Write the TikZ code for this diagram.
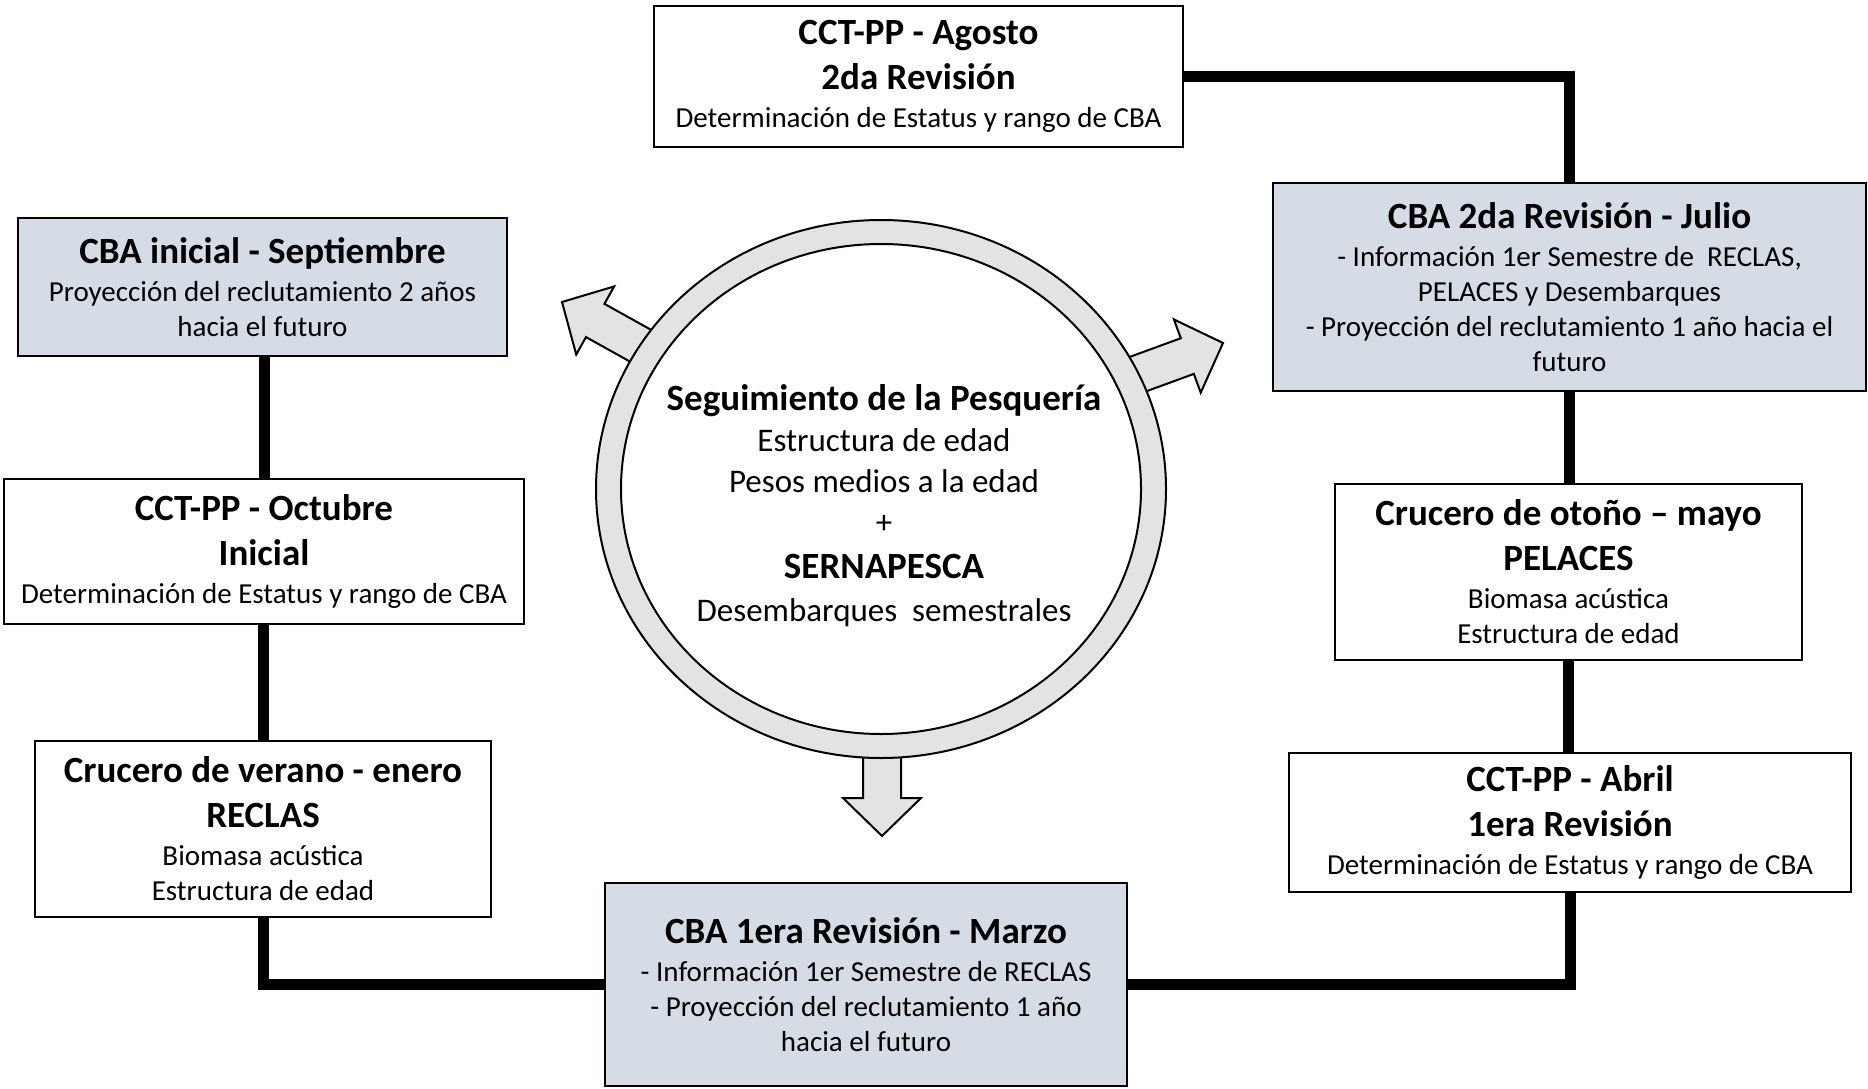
\documentclass[tikz,border=0pt]{standalone}
\usepackage{fontspec}
\setmainfont{Carlito}
\definecolor{boxblue}{HTML}{D6DCE5}
\definecolor{ringgray}{HTML}{E3E3E3}
\newcommand{\natspace}{\spaceskip=\fontdimen2\font\relax\xspaceskip=\fontdimen2\font\relax
  \leftskip=0pt plus 1fil\relax\rightskip=0pt plus 1fil\relax\parfillskip=0pt\relax}
\newcommand{\botgap}[1]{\par\vskip-#1pt\relax}
\newcommand{\ttlA}[1]{{\fontsize{37}{45}\selectfont\bfseries\natspace #1\par}}
\newcommand{\bdyA}[1]{{\fontsize{29}{35}\selectfont\natspace\vskip3pt #1\par}}
\newcommand{\bdyC}[1]{{\fontsize{33}{41}\selectfont\natspace #1\par}}
\newcommand{\blkarrow}[3]{%
  \begin{scope}[shift={#1}, rotate=#2]
    \draw[arrowshape] (0,0) -- (-38,39) -- (-38,19) -- (-#3,19) -- (-#3,-19) -- (-38,-19) -- (-38,-39) -- cycle;
  \end{scope}}
\tikzset{
  stagebox/.style={draw=black, line width=2pt, inner sep=0pt, align=center, fill=white},
  cbabox/.style={stagebox, fill=boxblue},
  link/.style={line width=11pt, black},
  arrowshape/.style={fill=ringgray, draw=black, line width=2pt, line join=miter},
}
\begin{document}
\begin{tikzpicture}[x=1pt, y=-1pt]
\fill[white] (0,0) rectangle (1868,1089);
\useasboundingbox (0,0) rectangle (1868,1089);

% stage boxes
\node[stagebox, minimum width=529pt, minimum height=141pt, text width=520pt] (ago) at (918.5,76.5)
  {\ttlA{CCT-PP - Agosto\\2da Revisión}\bdyA{Determinación de Estatus y rango de CBA}\botgap{3}};
\node[cbabox, minimum width=593pt, minimum height=208pt, text width=584pt] (jul) at (1569.5,287)
  {\ttlA{CBA 2da Revisión - Julio}\bdyA{- Información 1er Semestre de \ RECLAS,\\PELACES y Desembarques\\- Proyección del reclutamiento 1 año hacia el\\futuro}\botgap{-3}};
\node[stagebox, minimum width=467pt, minimum height=176pt, text width=458pt] (oto) at (1568.5,572)
  {\ttlA{Crucero de otoño – mayo\\PELACES}\bdyA{Biomasa acústica\\Estructura de edad}\botgap{-3}};
\node[stagebox, minimum width=562pt, minimum height=139pt, text width=552pt] (abr) at (1570,822.5)
  {\ttlA{CCT-PP - Abril\\1era Revisión}\bdyA{Determinación de Estatus y rango de CBA}\botgap{5}};
\node[cbabox, minimum width=522pt, minimum height=203pt, text width=512pt] (mar) at (866,984.5)
  {\ttlA{CBA 1era Revisión - Marzo}\bdyA{- Información 1er Semestre de RECLAS\\- Proyección del reclutamiento 1 año\\hacia el futuro}\botgap{-3}};
\node[stagebox, minimum width=456pt, minimum height=176pt, text width=448pt] (ver) at (263,829)
  {\ttlA{Crucero de verano - enero\\RECLAS}\bdyA{Biomasa acústica\\Estructura de edad}\botgap{-3}};
\node[stagebox, minimum width=520pt, minimum height=145pt, text width=512pt] (oct) at (264,551.5)
  {\ttlA{CCT-PP - Octubre\\Inicial}\bdyA{Determinación de Estatus y rango de CBA}};
\node[cbabox, minimum width=489pt, minimum height=138pt, text width=480pt] (sep) at (262.5,287)
  {\ttlA{CBA inicial - Septiembre}\bdyA{Proyección del reclutamiento 2 años\\hacia el futuro}\botgap{0}};

% connectors
\draw[link] (ago.east) -| (jul.north);
\draw[link] (jul.south) -- (jul.south |- oto.north);
\draw[link] (oto.south) -- (oto.south |- abr.north);
\draw[link] (abr.south) |- (mar.east);
\draw[link] (mar.west) -| (ver.south);
\draw[link] (ver.north) -- (ver.north |- oct.south);
\draw[link] (oct.north) -- (oct.north |- sep.south);

% block arrows out of the ring
\blkarrow{(562,302)}{150.9}{102}
\blkarrow{(1223,343)}{20.1}{100}
\blkarrow{(882,836)}{-90}{90}

% ring
\coordinate (ringc) at (881,489);
\fill[ringgray, even odd rule] (ringc) ellipse [x radius=285pt, y radius=269pt]
                                (ringc) ellipse [x radius=260pt, y radius=245pt];
\draw[line width=2pt] (ringc) ellipse [x radius=285pt, y radius=269pt];
\draw[line width=2pt] (ringc) ellipse [x radius=260pt, y radius=245pt];

% centre text
\node[align=center, text width=500pt, inner sep=0pt] (seg) at (884,506)
  {\ttlA{Seguimiento de la Pesquería}\bdyC{Estructura de edad\\Pesos medios a la edad\\+}\ttlA{SERNAPESCA}{\fontsize{33}{43}\selectfont\natspace Desembarques \ semestrales\par}};
\end{tikzpicture}
\end{document}
